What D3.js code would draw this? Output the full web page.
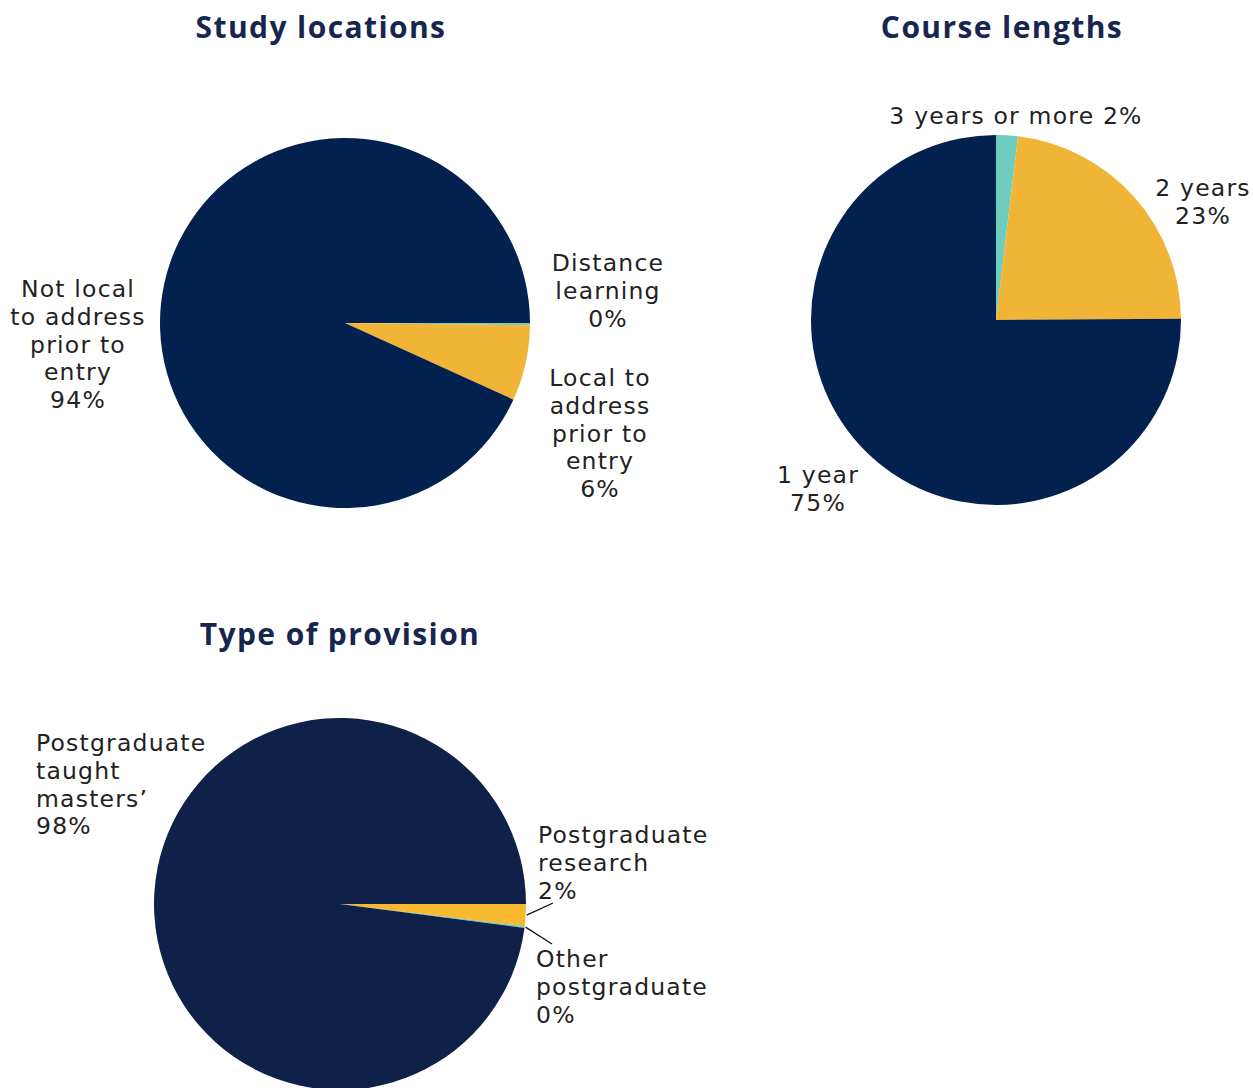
<!DOCTYPE html>
<html>
<head>
<meta charset="utf-8">
<script src="https://cdn.jsdelivr.net/npm/d3@7"></script>
<style>
  body { margin: 0; background: #fff; }
  text { font-family: "Open Sans", sans-serif; }
  text.lbl { font-family: "DejaVu Sans", sans-serif; }
</style>
</head>
<body>
<svg width="1253" height="1088"></svg>
<script>
// data
var locationNames = ["Distance learning", "Local to address prior to entry", "Not local to address prior to entry"];
var locationValues = [0.2, 6.6, 93.2];

var lengthNames = ["3 years or more", "2 years", "1 year"];
var lengthValues = [1.9, 23, 75.1];

var provisionNames = ["Postgraduate research", "Other postgraduate", "Postgraduate taught masters'"];
var provisionValues = [1.9, 0.15, 97.95];

var svg = d3.select("svg");

var titleColour = "#16264f";
var labelColour = "#222";

// draws one pie; start is the angle of the first slice (d3 radians, 0 = 12 o'clock)
function drawPie(cx, cy, r, values, colours, start) {
  var pie = d3.pie().sort(null).startAngle(start).endAngle(start + 2 * Math.PI);
  var arc = d3.arc().innerRadius(0).outerRadius(r);
  var g = svg.append("g").attr("transform", "translate(" + cx + "," + cy + ")");
  var arcs = pie(values);
  g.selectAll("path")
    .data(arcs)
    .enter().append("path")
    .attr("d", arc)
    .attr("fill", function (d, i) { return colours[i]; });
  return { g: g, arcs: arcs, r: r, cx: cx, cy: cy };
}

function title(x, y, txt) {
  svg.append("text")
    .attr("x", x).attr("y", y)
    .attr("text-anchor", "middle")
    .attr("font-size", 30)
    .attr("font-weight", "bold")
    .attr("letter-spacing", 1.4)
    .attr("fill", titleColour)
    .text(txt);
}

// one text element per line
function label(x, y, lines, anchor) {
  lines.forEach(function (l, i) {
    svg.append("text")
      .attr("class", "lbl")
      .attr("x", x).attr("y", y + i * 27.8)
      .attr("text-anchor", anchor || "middle")
      .attr("font-size", 23.5)
      .attr("letter-spacing", 1.2)
      .attr("fill", labelColour)
      .text(l);
  });
}

//Study locations
title(321, 38, "Study locations");
drawPie(345, 323, 185, locationValues, ["#6fcdbd", "#f0b436", "#03214f"], Math.PI / 2);
label(608, 271, ["Distance", "learning", "0%"]);
label(600, 386, ["Local to", "address", "prior to", "entry", "6%"]);
label(78, 297, ["Not local", "to address", "prior to", "entry", "94%"]);

//Course lengths
title(1002, 38, "Course lengths");
drawPie(996, 320, 185, lengthValues, ["#6fcdbd", "#f0b436", "#03214f"], 0);
label(1016, 124, ["3 years or more 2%"]);
label(1203, 196, ["2 years", "23%"]);
label(818, 483, ["1 year", "75%"]);

//Type of provision
title(340, 645, "Type of provision");
var p = drawPie(340, 904, 186, provisionValues, ["#f9b92e", "#6fcdbd", "#0f2049"], Math.PI / 2);
label(36, 751, ["Postgraduate", "taught", "masters\u2019", "98%"], "start");
label(538, 843, ["Postgraduate", "research", "2%"], "start");
label(536, 967, ["Other", "postgraduate", "0%"], "start");

// leader lines from the two small slices
var leaderEnds = [[553, 903], [552, 944]];
[0, 1].forEach(function (i) {
  var a = p.arcs[i];
  var mid = (a.startAngle + a.endAngle) / 2;
  var rr = p.r + 1;
  svg.append("line")
    .attr("x1", p.cx + Math.sin(mid) * rr)
    .attr("y1", p.cy - Math.cos(mid) * rr)
    .attr("x2", leaderEnds[i][0])
    .attr("y2", leaderEnds[i][1])
    .attr("stroke", "#111")
    .attr("stroke-width", 1.3);
});
</script>
</body>
</html>
